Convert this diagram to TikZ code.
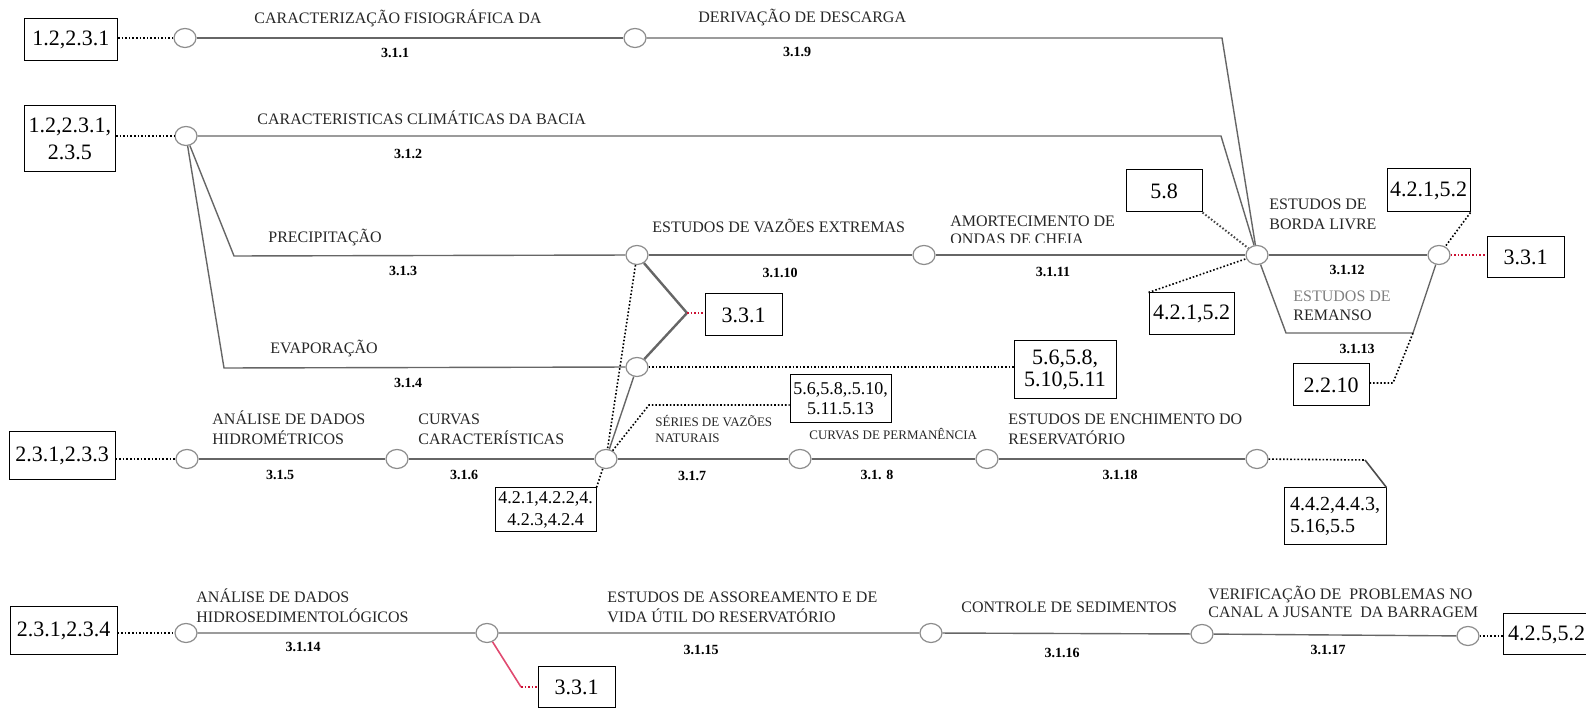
\documentclass[tikz,border=0pt]{standalone}
\usepackage{fontspec}
\setmainfont{Liberation Serif}
\usetikzlibrary{shapes.geometric}
\definecolor{linkred}{HTML}{CC1133}
\definecolor{pinkred}{HTML}{E04A70}
\newcommand\twolines[1]{\begin{tabular}[t]{@{}l@{}}#1\end{tabular}}
\begin{document}
\begin{tikzpicture}[x=0.5pt,y=-0.5pt,
  event/.style={ellipse,draw=black!45,fill=white,line width=0.6pt,
    minimum width=11pt,minimum height=9.5pt,inner sep=0pt},
  ref/.style={draw=black,line width=0.5pt,fill=white,inner sep=0pt,
    font=\fontsize{11}{13.5}\selectfont,align=center},
  act/.style={draw=black!60,line width=0.7pt},
  link/.style={draw=black,line width=0.8pt,densely dotted},
  redlink/.style={draw=linkred,line width=0.8pt,densely dotted},
  lbl/.style={anchor=base west,inner sep=0pt,text=black!85,font=\fontsize{8}{9}\selectfont},
  small/.style={anchor=base west,inner sep=0pt,text=black!85,font=\fontsize{6.5}{8}\selectfont},
  code/.style={inner sep=0pt,font=\fontsize{7}{8}\selectfont\bfseries},
]
\useasboundingbox (0,0) rectangle (1586,710);

% ---- reference boxes ----
\node[ref,minimum width=46.5pt,minimum height=21pt] (B1) at (71,40) {1.2,2.3.1};
\node[ref,minimum width=45.5pt,minimum height=33pt] (B2) at (70,139) {1.2,2.3.1,\\2.3.5};
\node[ref,minimum width=38pt,minimum height=21pt] (B58) at (1164,191) {5.8};
\node[ref,minimum width=41.5pt,minimum height=21.5pt] (B421t) at (1428.5,190.5) {4.2.1,5.2};
\node[ref,minimum width=38.5pt,minimum height=20.5pt] (B331r) at (1525.5,257.5) {3.3.1};
\node[ref,minimum width=42.5pt,minimum height=21pt] (B421l) at (1191.5,314) {4.2.1,5.2};
\node[ref,minimum width=38pt,minimum height=21pt] (B2210) at (1331,385) {2.2.10};
\node[ref,minimum width=38.5pt,minimum height=21pt] (B331m) at (743.5,315) {3.3.1};
\node[ref,minimum width=51pt,minimum height=29pt,font=\fontsize{11}{11}\selectfont] (B56) at (1065,370) {5.6,5.8,\\5.10,5.11};
\node[ref,minimum width=50.5pt,minimum height=24pt,font=\fontsize{9}{10}\selectfont] (B5610) at (840.5,399) {5.6,5.8,.5.10,\\5.11.5.13};
\node[ref,minimum width=53pt,minimum height=24pt] (B2331) at (62,456) {2.3.1,2.3.3};
\node[ref,minimum width=50.5pt,minimum height=22pt,font=\fontsize{9}{11}\selectfont] (B4214) at (545.5,510) {4.2.1,4.2.2,4.\\4.2.3,4.2.4};
\node[ref,minimum width=51pt,minimum height=28.5pt,font=\fontsize{10}{11}\selectfont,align=left] (B442) at (1335,516.5) {4.4.2,4.4.3,\\5.16,5.5};
\node[ref,minimum width=53.5pt,minimum height=24pt] (B2334) at (63.5,631) {2.3.1,2.3.4};
\node[ref,minimum width=38.5pt,minimum height=20.5pt] (B331b) at (576.5,687.5) {3.3.1};
\node[ref,minimum width=43.5pt,minimum height=20.5pt] (B425) at (1546.5,634.5) {4.2.5,5.2};

% ---- events ----
\node[event] (r1a) at (185,38) {};
\node[event] (r1b) at (635,38) {};
\node[event] (r2a) at (186,136) {};
\node[event] (vz) at (637,255) {};
\node[event] (am) at (924,255) {};
\node[event] (bl) at (1257,255) {};
\node[event] (fr) at (1439,255) {};
\node[event] (ev) at (637,367) {};
\node[event] (r5a) at (187,459) {};
\node[event] (r5b) at (397,459) {};
\node[event] (r7) at (606,459) {};
\node[event] (r8) at (800,459) {};
\node[event] (r18a) at (987,459) {};
\node[event] (r18b) at (1257,459) {};
\node[event] (r6a) at (186,633) {};
\node[event] (r6b) at (487,633) {};
\node[event] (r6c) at (931,633) {};
\node[event] (r6d) at (1202,634) {};
\node[event] (r6e) at (1468,636) {};

% ---- bends ----
\coordinate (k1) at (1222,38);
\coordinate (k2) at (1221,136);
\coordinate (p3) at (234,256);
\coordinate (p4) at (224,368);
\coordinate (ap) at (687,313);
\coordinate (k13a) at (1286,333);
\coordinate (k13b) at (1413,333);
\coordinate (k2210) at (1393,383);
\coordinate (k56) at (649,405);
\coordinate (k442) at (1365,460);
\coordinate (k6) at (521,687);

% ---- activities ----
\draw[act] (r1a) -- (r1b);
\draw[act] (r1b) -- (k1) -- (bl);
\draw[act] (r2a) -- (k2) -- (bl);
\draw[act] (r2a) -- (p3) -- (vz);
\draw[act] (r2a) -- (p4) -- (ev);
\draw[act] (vz) -- (am) -- (bl) -- (fr);
\draw[act] (bl) -- (k13a) -- (k13b) -- (fr);
\draw[act,line width=1.2pt] (vz) -- (ap) -- (ev);
\draw[act] (ev) -- (r7);
\draw[act] (r5a) -- (r5b) -- (r7) -- (r8) -- (r18a) -- (r18b);
\draw[act] (r6a) -- (r6b) -- (r6c) -- (r6d) -- (r6e);

% ---- links to other chapters ----
\draw[link] (B1.east |- r1a) -- (r1a);
\draw[link] (B2.east |- r2a) -- (r2a);
\draw[link] (B2331.east |- r5a) -- (r5a);
\draw[link] (B2334.east |- r6a) -- (r6a);
\draw[link] (r6e) -- (B425.west |- r6e);
\draw[link] (B2210.east |- k2210) -- (k2210) -- (k13b);
\draw[link] (B421t.south east) -- (fr);
\draw[link,draw=black!70,line width=1pt] (B58.south east) -- (bl);
\draw[link] (B421l.north west) -- (bl);
\draw[link] (ev) -- (B56.west |- ev);
\draw[link] (vz) -- (r7);
\draw[link] (r7) -- (k56) -- (B5610.west |- k56);
\draw[link] (B4214.north east) -- (r7);
\draw[link] (r18b) -- (k442);
\draw[draw=black!70,line width=0.8pt] (k442) -- (B442.north east);
\draw[redlink] (fr) -- (B331r.west |- fr);
\draw[redlink] (ap) -- (B331m.west |- ap);
\draw[draw=pinkred,line width=0.8pt] (r6b) -- (k6);
\draw[redlink] (k6) -- (B331b.west |- k6);

% ---- activity names ----
\node[lbl] (t311) at (254,24) {CARACTERIZAÇÃO FISIOGRÁFICA DA};
\node[lbl] (t319) at (698,23) {DERIVAÇÃO DE DESCARGA};
\node[lbl] (t312) at (257,125) {CARACTERISTICAS CLIMÁTICAS DA BACIA};
\node[lbl] (t313) at (268,243) {PRECIPITAÇÃO};
\node[lbl] (t3110) at (652,233) {ESTUDOS DE VAZÕES EXTREMAS};
\begin{scope}
  \clip (940,200) rectangle (1130,243);
  \node[lbl] (t3111) at (950,227) {\twolines{AMORTECIMENTO DE\\ONDAS DE CHEIA}};
\end{scope}
\node[lbl,font=\fontsize{8}{10}\selectfont] (t3112) at (1269,210) {\twolines{ESTUDOS DE\\BORDA LIVRE}};
\node[lbl,font=\fontsize{8}{9.5}\selectfont] (t3113) at (1293,302) {\twolines{{\color{black!50}ESTUDOS DE}\\REMANSO}};
\node[lbl] (t314) at (270,354) {EVAPORAÇÃO};
\node[lbl] (t315) at (212,425) {\twolines{ANÁLISE DE DADOS\\HIDROMÉTRICOS}};
\node[lbl] (t316) at (418,425) {\twolines{CURVAS\\CARACTERÍSTICAS}};
\node[small] (t317) at (655,427) {\twolines{SÉRIES DE VAZÕES\\NATURAIS}};
\node[small] (t318) at (809,440) {CURVAS DE PERMANÊNCIA};
\node[lbl] (t3118) at (1008,425) {\twolines{ESTUDOS DE ENCHIMENTO DO\\RESERVATÓRIO}};
\node[lbl] (t3114) at (196,603) {\twolines{ANÁLISE DE DADOS\\HIDROSEDIMENTOLÓGICOS}};
\node[lbl] (t3115) at (607,603) {\twolines{ESTUDOS DE ASSOREAMENTO E DE\\VIDA ÚTIL DO RESERVATÓRIO}};
\node[lbl] (t3116) at (961,613) {CONTROLE DE SEDIMENTOS};
\node[lbl] (t3117) at (1208,600) {\twolines{VERIFICAÇÃO DE\ \ PROBLEMAS NO\\CANAL A JUSANTE\ \ DA BARRAGEM}};

% ---- activity codes ----
\node[code] (n311) at (395,53) {3.1.1};
\node[code] (n319) at (797,52) {3.1.9};
\node[code] (n312) at (408,154) {3.1.2};
\node[code] (n313) at (403,271) {3.1.3};
\node[code] (n3110) at (780,273) {3.1.10};
\node[code] (n3111) at (1053,272) {3.1.11};
\node[code] (n3112) at (1347,270) {3.1.12};
\node[code] (n3113) at (1357,349) {3.1.13};
\node[code] (n314) at (408,383) {3.1.4};
\node[code] (n315) at (280,475) {3.1.5};
\node[code] (n316) at (464,475) {3.1.6};
\node[code] (n317) at (692,476) {3.1.7};
\node[code] (n318) at (877,475) {3.1. 8};
\node[code] (n3118) at (1120,475) {3.1.18};
\node[code] (n3114) at (303,647) {3.1.14};
\node[code] (n3115) at (701,650) {3.1.15};
\node[code] (n3116) at (1062,653) {3.1.16};
\node[code] (n3117) at (1328,650) {3.1.17};
\end{tikzpicture}
\end{document}
